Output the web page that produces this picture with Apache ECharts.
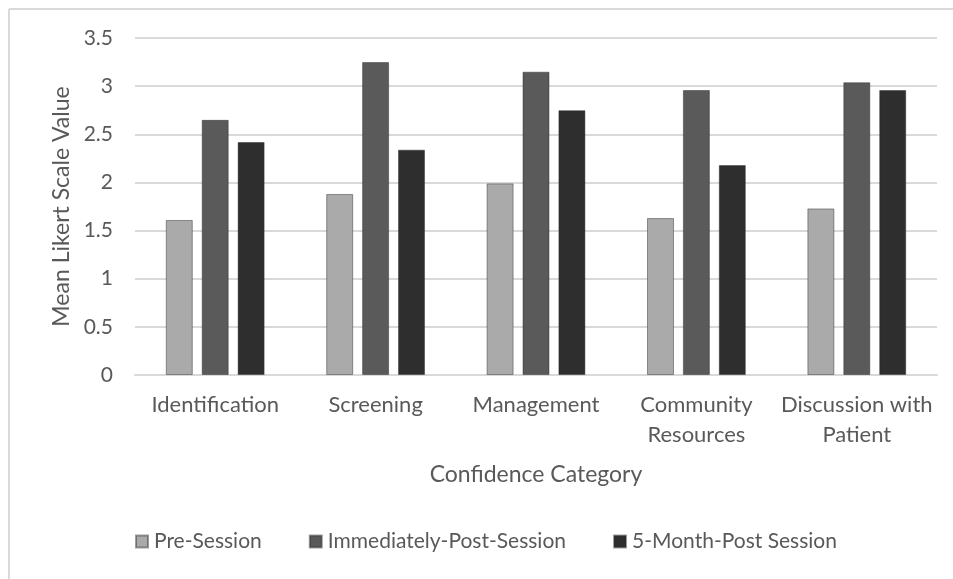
<!DOCTYPE html>
<html>
<head>
<meta charset="utf-8">
<script src="https://cdn.jsdelivr.net/npm/echarts@6/dist/echarts.min.js"></script>
<style>
  html, body { margin: 0; padding: 0; background: #ffffff; }
  #chart { width: 953px; height: 579px; }
</style>
</head>
<body>
<div id="chart"></div>
<script>
// Confidence categories on the x axis
const categories = ['Identification', 'Screening', 'Management', 'Community\nResources', 'Discussion with\nPatient'];

// Mean Likert scale values per session
const preSession = [1.61, 1.88, 1.99, 1.63, 1.73];
const immediatelyPost = [2.65, 3.25, 3.15, 2.96, 3.04];
const fiveMonthPost = [2.42, 2.34, 2.75, 2.18, 2.96];

const seriesNames = ['Pre-Session', 'Immediately-Post-Session', '5-Month-Post Session'];
const yTicks = { min: 0, max: 3.5, interval: 0.5 };

const FONT = 'Lato';
const TEXT = '#595959';

const chart = echarts.init(document.getElementById('chart'), null, { renderer: 'canvas' });

function barSeries(name, data, color) {
  return {
    name: name,
    type: 'bar',
    data: data,
    barWidth: 27,
    barGap: '33%',
    itemStyle: { color: color, borderColor: 'rgba(40,40,40,0.45)', borderWidth: 1 }
  };
}

chart.setOption({
  animation: false,
  backgroundColor: '#ffffff',
  textStyle: { fontFamily: FONT },
  grid: { left: 135, right: 16, top: 38, bottom: 204, containLabel: false },
  graphic: [
    { type: 'line', shape: { x1: 9, y1: 9, x2: 953, y2: 9 }, style: { stroke: '#d9d9d9', lineWidth: 2 } },
    { type: 'line', shape: { x1: 9, y1: 9, x2: 9, y2: 579 }, style: { stroke: '#d9d9d9', lineWidth: 2 } }
  ],
  xAxis: {
    type: 'category',
    data: categories,
    name: 'Confidence Category',
    nameLocation: 'middle',
    nameGap: 88,
    nameTextStyle: { color: TEXT, fontSize: 23, fontFamily: FONT },
    axisLine: { lineStyle: { color: '#d9d9d9', width: 2 } },
    axisTick: { show: false },
    axisLabel: { color: TEXT, fontSize: 22, fontFamily: FONT, lineHeight: 30, margin: 15, interval: 0 }
  },
  yAxis: {
    type: 'value',
    min: yTicks.min,
    max: yTicks.max,
    interval: yTicks.interval,
    name: 'Mean Likert Scale Value',
    nameLocation: 'middle',
    nameGap: 62,
    nameTextStyle: { color: TEXT, fontSize: 23, fontFamily: FONT },
    axisLine: { show: false },
    axisTick: { show: false },
    axisLabel: { color: TEXT, fontSize: 21, fontFamily: FONT, margin: 22 },
    splitLine: { lineStyle: { color: '#d9d9d9', width: 2 } }
  },
  legend: {
    data: seriesNames,
    left: 130,
    top: 526,
    itemWidth: 12,
    itemHeight: 12,
    itemGap: 47,
    icon: 'rect',
    textStyle: { color: TEXT, fontSize: 21, fontFamily: FONT, padding: [0, 0, 0, 1] }
  },
  series: [
    barSeries(seriesNames[0], preSession, '#aaaaaa'),
    barSeries(seriesNames[1], immediatelyPost, '#5a5a5a'),
    barSeries(seriesNames[2], fiveMonthPost, '#2e2e2e')
  ]
});
</script>
</body>
</html>
